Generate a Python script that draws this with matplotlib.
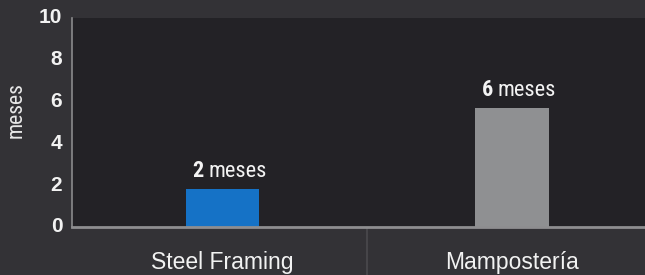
import matplotlib
matplotlib.use("Agg")
import matplotlib.pyplot as plt
import matplotlib.transforms as mtransforms
from matplotlib import font_manager

categories = ["Steel Framing", "Mampostería"]
values = [1.8, 5.7]
value_numbers = ["2", "6"]
value_unit = "meses"
y_ticks = [0, 2, 4, 6, 8, 10]
y_label = "meses"
bar_colors = ["#1572c6", "#8f9092"]

names = {f.name for f in font_manager.fontManager.ttflist}
def pick(*cands):
    got = [f for f in cands if f in names]
    return got + ["DejaVu Sans"]
cond = pick("Roboto Condensed", "Archivo Narrow")
reg = pick("Liberation Sans", "Roboto")
plt.rcParams['font.family'] = cond

fig = plt.figure(figsize=(6.45, 2.75), dpi=100, facecolor="#333236")
ax = fig.add_axes([72/645, 48/275, 1 - 72/645, 209/275])
ax.set_facecolor("#232226")

x = list(range(len(categories)))
ax.bar(x, values, width=0.255, color=bar_colors, zorder=2)

ax.set_xlim(-0.52, 1.46)
ax.set_ylim(0, 10)
ax.set_yticks(y_ticks)
ax.set_yticklabels([str(t) for t in y_ticks], fontsize=15, fontweight="bold",
                   color="#f2f2f2", family=reg)
ax.tick_params(axis="y", length=0, pad=7)
shift = mtransforms.ScaledTranslation(0, 1.5/72, fig.dpi_scale_trans)
for lab in ax.get_yticklabels():
    lab.set_transform(lab.get_transform() + shift)
ax.set_xticks(x)
ax.set_xticklabels(categories, fontsize=16.5, color="#f2f2f2", family=reg)
ax.tick_params(axis="x", length=0, pad=17)
ax.set_xticks([0.5], minor=True)
ax.tick_params(axis="x", which="minor", length=36, width=1.2, color="#4a4a4e", direction="out")

for s in ["top", "right"]:
    ax.spines[s].set_visible(False)
ax.spines["left"].set_color("#8a8a8c")
ax.spines["bottom"].set_color("#8e8e90")
ax.spines["left"].set_linewidth(1.2)
ax.spines["bottom"].set_linewidth(2)

ax.set_ylabel(y_label, fontsize=15.5, color="#e8e8e8")
ax.yaxis.set_label_coords(-0.08, 0.56)

for xi, v, num in zip(x, values, value_numbers):
    ax.annotate(num, (xi, v), xytext=(-13.5, 5), textcoords="offset points",
                ha="right", va="bottom", fontsize=16, fontweight="bold", color="#f4f4f4")
    ax.annotate(value_unit, (xi, v), xytext=(-10, 5), textcoords="offset points",
                ha="left", va="bottom", fontsize=16, color="#f4f4f4")

fig.savefig("out.png", dpi=100, facecolor=fig.get_facecolor())
